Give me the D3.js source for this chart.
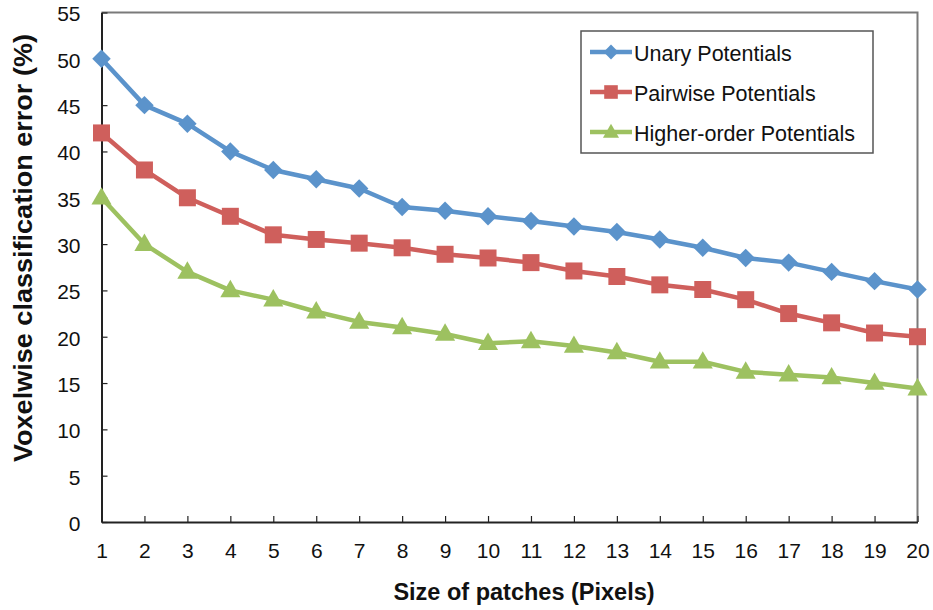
<!DOCTYPE html>
<html><head><meta charset="utf-8">
<script src="https://cdn.jsdelivr.net/npm/d3@7"></script>
<style>body{margin:0;background:#fff;} svg{display:block;font-family:"Liberation Sans",Arial,sans-serif;}</style>
</head><body><svg id="c" width="933" height="610"></svg>
<script>
const sizes = d3.range(1, 21);
const unary = [50, 45, 43, 40, 38, 37, 36, 34, 33.6, 33, 32.5, 31.9, 31.3, 30.5, 29.6, 28.5, 28, 27, 26, 25.1];
const pairwise = [42, 38, 35, 33, 31, 30.5, 30.1, 29.6, 28.9, 28.5, 28, 27.1, 26.5, 25.6, 25.1, 24, 22.5, 21.5, 20.4, 20];
const higher = [35, 30, 27, 25, 24, 22.7, 21.6, 21, 20.3, 19.3, 19.5, 19, 18.3, 17.3, 17.3, 16.2, 15.9, 15.6, 15, 14.4];
const yTicks = d3.range(0, 56, 5);
const seriesNames = ["Unary Potentials", "Pairwise Potentials", "Higher-order Potentials"];
const colors = ["#5B93CB", "#CF5F5C", "#9DC160"];

const svg = d3.select("#c");
const L = 101.5, R = 917.5, T = 12.5, B = 522;
const x = d3.scaleLinear().domain([1, 20]).range([L, R]);
const y = d3.scaleLinear().domain([0, 55]).range([B, T]);

// frame
svg.append("path").attr("d", `M${L},${T}H${R}V${B}`).attr("fill", "none").attr("stroke", "#7a7a7a").attr("stroke-width", 2);

// y axis
const ya = svg.append("g").attr("transform", `translate(${L},0)`)
  .call(d3.axisLeft(y).tickValues(yTicks).tickSizeInner(-6).tickSizeOuter(0).tickPadding(21));
ya.select(".domain").attr("stroke", "#222").attr("stroke-width", 2);
ya.selectAll(".tick line").attr("stroke", "#222").attr("stroke-width", 1.2);
ya.selectAll("text").attr("font-size", 21).attr("fill", "#111").attr("dy", "0.4em").attr("font-family", "Liberation Sans, Arial, sans-serif");

// x axis
const xa = svg.append("g").attr("transform", `translate(0,${B})`)
  .call(d3.axisBottom(x).tickValues(sizes).tickFormat(d3.format("d")).tickSizeInner(-6).tickSizeOuter(0).tickPadding(21));
xa.select(".domain").attr("stroke", "#222").attr("stroke-width", 2);
xa.selectAll(".tick line").attr("stroke", "#222").attr("stroke-width", 1.2);
xa.selectAll("text").attr("font-size", 21).attr("fill", "#111").attr("font-family", "Liberation Sans, Arial, sans-serif");

// labels
svg.append("text").attr("x", 524).attr("y", 600).attr("text-anchor", "middle")
  .attr("font-size", 23.5).attr("font-weight", "bold").attr("fill", "#111").text("Size of patches (Pixels)");
svg.append("text").attr("transform", `translate(32,248) rotate(-90)`).attr("text-anchor", "middle")
  .attr("font-size", 25).attr("font-weight", "bold").attr("fill", "#111")
  .attr("textLength", 428).attr("lengthAdjust", "spacingAndGlyphs").text("Voxelwise classification error (%)");

// markers
function marker(sel, k, scale) {
  if (k === 0) {
    sel.append("path").attr("d", d3.symbol().type(d3.symbolSquare).size(170 * scale * scale)).attr("transform", "rotate(45)");
  } else if (k === 1) {
    sel.append("path").attr("d", d3.symbol().type(d3.symbolSquare).size(289 * scale * scale));
  } else {
    sel.append("path").attr("d", d3.symbol().type(d3.symbolTriangle).size(175 * scale * scale)).attr("transform", "translate(0,1)");
  }
}

// series
const all = [unary, pairwise, higher];
const line = d3.line().x((d, i) => x(sizes[i])).y(d => y(d));
all.forEach((vals, k) => {
  svg.append("path").datum(vals).attr("d", line).attr("fill", "none")
    .attr("stroke", colors[k]).attr("stroke-width", 4.5).attr("stroke-linejoin", "round");
  svg.selectAll(null).data(vals).enter().append("g")
    .attr("transform", (d, i) => `translate(${x(sizes[i])},${y(d)})`)
    .attr("fill", colors[k])
    .each(function() { marker(d3.select(this), k, 1); });
});

// legend
const lg = svg.append("g");
lg.append("rect").attr("x", 581).attr("y", 31).attr("width", 292).attr("height", 122)
  .attr("fill", "#fff").attr("stroke", "#555").attr("stroke-width", 1.5);
seriesNames.forEach((n, k) => {
  const cy = 52 + k * 40;
  lg.append("line").attr("x1", 590).attr("x2", 632).attr("y1", cy).attr("y2", cy)
    .attr("stroke", colors[k]).attr("stroke-width", 4.5);
  const g = lg.append("g").attr("transform", `translate(611,${cy})`).attr("fill", colors[k]);
  marker(g, k, 0.8);
  lg.append("text").attr("x", 634).attr("y", cy + 9).attr("font-size", 21.5).attr("fill", "#111").text(n);
});
</script>
</body></html>
